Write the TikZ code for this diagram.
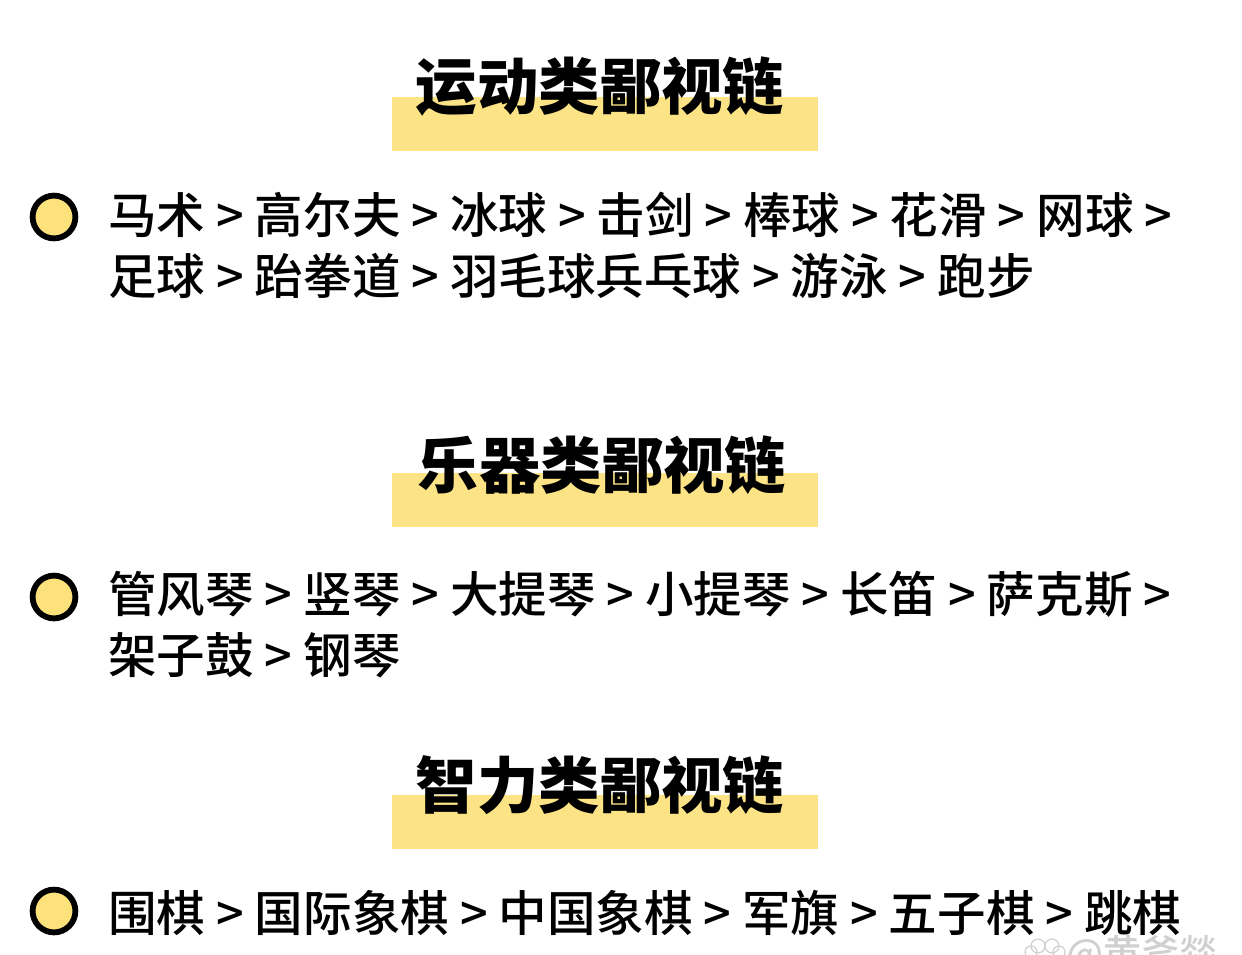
\documentclass[tikz,border=0pt]{standalone}
\usepackage{fontspec}
\usepackage{xcolor}
\setmainfont{Noto Sans CJK SC Medium}
\newfontfamily\cjkbold{Noto Sans CJK SC Black}
\definecolor{bandyellow}{HTML}{FBE386}
\definecolor{dotyellow}{HTML}{FDE27C}
\definecolor{markgray}{HTML}{D0D0D0}
\tikzset{
    x=0.5pt, y=-0.5pt,
    title-band/.style = {fill=bandyellow, draw=none, rectangle, minimum width=213pt, minimum height=27pt, inner sep=0pt},
    title-text/.style = {text=black, font=\cjkbold\fontsize{30.7}{30.7}\selectfont, inner sep=0pt},
    list-dot/.style = {circle, draw=black, fill=dotyellow, line width=2.9pt, minimum size=21.4pt, inner sep=0pt},
    list-line/.style = {anchor=west, text=black, font=\fontsize{24.27}{24.27}\selectfont, inner sep=0pt},
    mark-text/.style = {anchor=west, text=markgray, font=\fontsize{19}{19}\selectfont, inner sep=0pt},
    paw-toe/.style = {circle, draw=markgray, line width=0.6pt, minimum size=7pt, inner sep=0pt},
}
\begin{document}
\begin{tikzpicture}
\useasboundingbox (0,0) rectangle (1242,954);
\fill[white] (0,0) rectangle (1242,954);
\clip (0,0) rectangle (1242,954);
% sport
\node[title-band] (band-sport) at (605,124) {};
\node[title-text] (title-sport) at (600,87) {运动类鄙视链};
\node[list-dot] (dot-sport) at (54,217) {};
\node[list-line] (sport-a) at (108,215) {马术 > 高尔夫 > 冰球 > 击剑 > 棒球 > 花滑 > 网球 >};
\node[list-line] (sport-b) at (108,276) {足球 > 跆拳道 > 羽毛球兵乓球 > 游泳 > 跑步};
% music
\node[title-band] (band-music) at (605,500) {};
\node[title-text] (title-music) at (602,465) {乐器类鄙视链};
\node[list-dot] (dot-music) at (54,597) {};
\node[list-line] (music-a) at (108,594) {管风琴 > 竖琴 > 大提琴 > 小提琴 > 长笛 > 萨克斯 >};
\node[list-line] (music-b) at (108,655) {架子鼓 > 钢琴};
% brain
\node[title-band] (band-brain) at (605,822) {};
\node[title-text] (title-brain) at (600,785) {智力类鄙视链};
\node[list-dot] (dot-brain) at (54,911) {};
\node[list-line] (brain-a) at (108,913) {围棋 > 国际象棋 > 中国象棋 > 军旗 > 五子棋 > 跳棋};
% watermark
\node[paw-toe] (paw-a) at (1038,946) {};
\node[paw-toe] (paw-b) at (1052,946) {};
\node[paw-toe, minimum size=6pt] (paw-c) at (1031,952) {};
\node[paw-toe, minimum size=6pt] (paw-d) at (1059,952) {};
\node[mark-text] (mark) at (1066,955) {@黄斧燚};
\end{tikzpicture}
\end{document}
